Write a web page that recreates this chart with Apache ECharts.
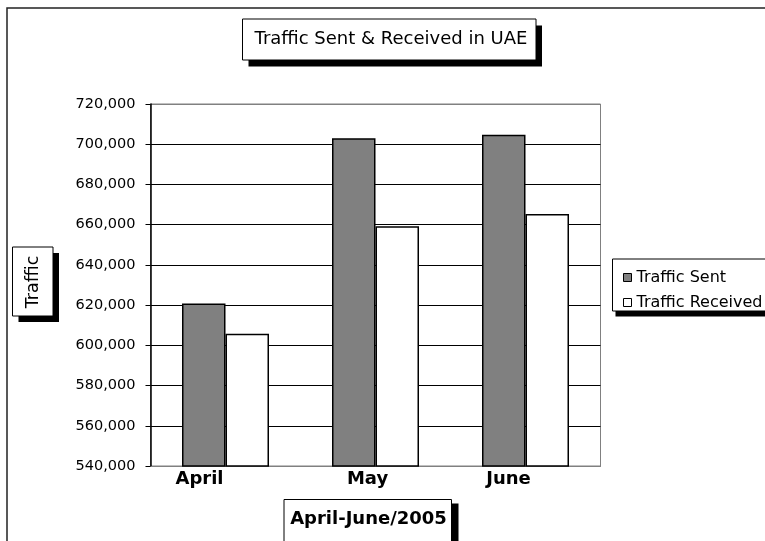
<!DOCTYPE html>
<html>
<head>
<meta charset="utf-8">
<script src="https://cdn.jsdelivr.net/npm/echarts@6/dist/echarts.min.js"></script>
<style>
html,body{margin:0;padding:0;background:#fff;}
#chart{width:765px;height:541px;}
</style>
</head>
<body>
<div id="chart"></div>
<script>
// ---- data ----
const categories = ['April', 'May', 'June'];
const trafficSent = [620800, 703000, 704700];
const trafficReceived = [605800, 659200, 665300];
const seriesNames = ['Traffic Sent', 'Traffic Received'];
const yMin = 540000, yMax = 720000, yStep = 20000;
const titleText = 'Traffic Sent & Received in UAE';
const yAxisTitle = 'Traffic';
const xAxisTitle = 'April-June/2005';

const FONT = 'DejaVu Sans';
const chart = echarts.init(document.getElementById('chart'), null, {renderer: 'canvas'});

const labelKeys = ['a', 'b', 'c'];
const labelShift = [52, 16, 34];
const rich = {};
labelKeys.forEach((k, i) => {
  rich[k] = {fontFamily: FONT, fontWeight: 'bold', fontSize: 18, color: '#000', padding: [0, labelShift[i], 0, 0]};
});

const nLines = Math.round((yMax - yMin) / yStep) + 1;
const splitColors = [];
for (let i = 0; i < nLines; i++) splitColors.push(i === 0 || i === nLines - 1 ? '#808080' : '#000');

function boxWithShadow(x, y, w, h, sx, sy) {
  return [
    {type: 'rect', shape: {x: x + sx, y: y + sy, width: w, height: h}, style: {fill: '#000'}, z: 10},
    {type: 'rect', shape: {x: x, y: y, width: w, height: h}, style: {fill: '#fff', stroke: '#000', lineWidth: 1}, z: 11}
  ];
}

const option = {
  animation: false,
  backgroundColor: '#fff',
  grid: {left: 150.5, top: 104, width: 450, height: 362, show: true, borderColor: '#808080', borderWidth: 1, backgroundColor: 'transparent'},
  xAxis: {
    type: 'category',
    data: categories,
    axisLine: {show: true, lineStyle: {color: '#808080', width: 1}},
    axisTick: {show: false},
    axisLabel: {
      margin: 4,
      formatter: (v, i) => '{' + labelKeys[i] + '|' + v + '}',
      rich: rich
    },
    splitLine: {show: false}
  },
  yAxis: {
    type: 'value',
    min: yMin, max: yMax, interval: yStep,
    axisLine: {show: true, lineStyle: {color: '#000', width: 1.5}},
    axisTick: {show: true, inside: false, length: 5, lineStyle: {color: '#000', width: 1}},
    axisLabel: {
      margin: 15,
      fontFamily: FONT, fontSize: 14.5, color: '#000',
      formatter: v => v.toLocaleString('en-US')
    },
    splitLine: {show: true, lineStyle: {color: splitColors, width: 1}}
  },
  legend: {
    orient: 'vertical',
    left: 618,
    top: 264.5,
    itemWidth: 8,
    itemHeight: 8,
    itemGap: 9,
    icon: 'rect',
    itemStyle: {borderColor: '#000', borderWidth: 1},
    textStyle: {fontFamily: FONT, fontSize: 16, color: '#000', lineHeight: 16},
    data: seriesNames,
    z: 20
  },
  series: [
    {
      name: seriesNames[0], type: 'bar', data: trafficSent,
      barGap: '0%', barCategoryGap: '42%',
      itemStyle: {color: '#808080', borderColor: '#000', borderWidth: 1.5}
    },
    {
      name: seriesNames[1], type: 'bar', data: trafficReceived,
      barGap: '0%', barCategoryGap: '42%',
      itemStyle: {color: '#fff', borderColor: '#000', borderWidth: 1.5}
    }
  ],
  graphic: [
    // outer chart frame
    {type: 'rect', shape: {x: 7, y: 8, width: 770, height: 545}, style: {fill: 'none', stroke: '#222', lineWidth: 1.5}, z: 5},
    // title box
    ...boxWithShadow(242.5, 19, 293.5, 41, 6, 6.5),
    {type: 'text', x: 391, y: 39.5, z: 12, style: {text: titleText, fontFamily: FONT, fontSize: 18, fill: '#000', align: 'center', verticalAlign: 'middle'}},
    // y axis title box
    ...boxWithShadow(12.5, 247, 40.5, 69, 6, 6),
    {type: 'text', x: 33, y: 282, rotation: Math.PI / 2, z: 12, style: {text: yAxisTitle, fontFamily: FONT, fontSize: 17.5, fill: '#000', align: 'center', verticalAlign: 'middle'}},
    // x axis title box
    ...boxWithShadow(284, 499.5, 167.5, 60, 7, 4),
    {type: 'text', x: 368.5, y: 519, z: 12, style: {text: xAxisTitle, fontFamily: FONT, fontWeight: 'bold', fontSize: 18, fill: '#000', align: 'center', verticalAlign: 'middle'}},
    // legend box
    ...boxWithShadow(612.5, 259, 170, 52, 3, 5.5)
  ]
};
chart.setOption(option);
</script>
</body>
</html>
